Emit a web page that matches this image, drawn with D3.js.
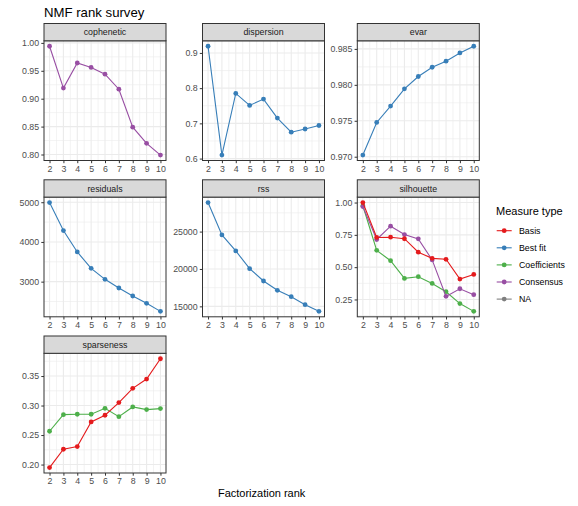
<!DOCTYPE html>
<html>
<head>
<meta charset="utf-8">
<script src="https://cdn.jsdelivr.net/npm/d3@7"></script>
<style>
  body { margin: 0; background: #fff; }
  svg { font-family: "Liberation Sans", Arial, sans-serif; }
</style>
</head>
<body>
<div id="chart"></div>
<script>
// NMF rank survey: faceted small multiples, one panel per quality measure
const ranks = [2, 3, 4, 5, 6, 7, 8, 9, 10];

const cophenetic = [0.994, 0.919, 0.964, 0.956, 0.944, 0.917, 0.849, 0.820, 0.799];
const dispersion = [0.919, 0.610, 0.785, 0.751, 0.769, 0.715, 0.675, 0.684, 0.694];
const evar = [0.97023, 0.97477, 0.97704, 0.97944, 0.98116, 0.98245, 0.98329, 0.98444, 0.98537];
const residuals = [4992, 4286, 3748, 3336, 3059, 2840, 2639, 2454, 2252];
const rss = [28884, 24554, 22411, 20045, 18393, 17143, 16295, 15223, 14330];
const silhouetteBasis = [1.00, 0.730, 0.732, 0.720, 0.616, 0.568, 0.561, 0.408, 0.444];
const silhouetteCoef = [0.975, 0.630, 0.550, 0.413, 0.426, 0.374, 0.310, 0.218, 0.158];
const silhouetteCons = [0.969, 0.714, 0.817, 0.752, 0.719, 0.556, 0.274, 0.333, 0.287];
const sparsenessBasis = [0.1949, 0.2259, 0.2305, 0.2722, 0.2835, 0.3050, 0.3291, 0.3449, 0.3793];
const sparsenessCoef = [0.2564, 0.2846, 0.2852, 0.2852, 0.2953, 0.2812, 0.2976, 0.2931, 0.2948];

const measureTypes = ['Basis', 'Best fit', 'Coefficients', 'Consensus', 'NA'];

const copheneticTicks = [0.80, 0.85, 0.90, 0.95, 1.00];
const dispersionTicks = [0.6, 0.7, 0.8, 0.9];
const evarTicks = [0.970, 0.975, 0.980, 0.985];
const residualsTicks = [3000, 4000, 5000];
const rssTicks = [15000, 20000, 25000];
const silhouetteTicks = [0.25, 0.50, 0.75, 1.00];
const sparsenessTicks = [0.20, 0.25, 0.30, 0.35];

const panels = [
  {name: 'cophenetic', ticks: copheneticTicks, fmt: '.2f', series: [{type: 'Consensus', values: cophenetic}]},
  {name: 'dispersion', ticks: dispersionTicks, fmt: '.1f', series: [{type: 'Best fit', values: dispersion}]},
  {name: 'evar', ticks: evarTicks, fmt: '.3f', series: [{type: 'Best fit', values: evar}]},
  {name: 'residuals', ticks: residualsTicks, fmt: 'd', series: [{type: 'Best fit', values: residuals}]},
  {name: 'rss', ticks: rssTicks, fmt: 'd', series: [{type: 'Best fit', values: rss}]},
  {name: 'silhouette', ticks: silhouetteTicks, fmt: '.2f', series: [
    {type: 'Coefficients', values: silhouetteCoef},
    {type: 'Consensus', values: silhouetteCons},
    {type: 'Basis', values: silhouetteBasis}
  ]},
  {name: 'sparseness', ticks: sparsenessTicks, fmt: '.2f', series: [
    {type: 'Coefficients', values: sparsenessCoef},
    {type: 'Basis', values: sparsenessBasis}
  ]}
];

const color = d3.scaleOrdinal()
  .domain(measureTypes)
  .range(['#E41A1C', '#377EB8', '#4DAF4A', '#984EA3', '#7F7F7F']);

const W = 578, H = 506;
const colLeft = [44, 202.5, 357.3];
const rowTop = [23.5, 179.8, 336];
const panelW = 122, stripH = 17.3, plotH = 119.7;

const svg = d3.select('#chart').append('svg').attr('width', W).attr('height', H);

svg.append('text').attr('x', 44).attr('y', 16.5)
  .attr('font-size', 13.2).attr('fill', '#000').text('NMF rank survey');

function expand(ext, mult) {
  const pad = (ext[1] - ext[0]) * mult;
  return [ext[0] - pad, ext[1] + pad];
}

panels.forEach((p, i) => {
  const col = i % 3, row = Math.floor(i / 3);
  const x0 = colLeft[col], y0 = rowTop[row] + stripH;
  const g = svg.append('g').attr('transform', `translate(${x0},${y0})`);

  const x = d3.scaleLinear().domain(expand([2, 10], 0.05)).range([0, panelW]);
  const allVals = p.series.flatMap(s => s.values);
  const y = d3.scaleLinear().domain(expand(d3.extent(allVals), 0.05)).range([plotH, 0]);

  // grid
  const step = p.ticks[1] - p.ticks[0];
  const yd = y.domain();
  const yMinor = [p.ticks[0] - step / 2].concat(p.ticks.map(t => t + step / 2))
    .filter(v => v > yd[0] && v < yd[1]);
  const xMinor = ranks.slice(0, -1).map(r => r + 0.5);

  g.append('rect').attr('width', panelW).attr('height', plotH).attr('fill', '#fff');
  g.selectAll('.ymin').data(yMinor).enter().append('line')
    .attr('x1', 0).attr('x2', panelW).attr('y1', d => y(d)).attr('y2', d => y(d))
    .attr('stroke', '#EBEBEB').attr('stroke-width', 0.6);
  g.selectAll('.xmin').data(xMinor).enter().append('line')
    .attr('y1', 0).attr('y2', plotH).attr('x1', d => x(d)).attr('x2', d => x(d))
    .attr('stroke', '#EBEBEB').attr('stroke-width', 0.6);
  g.selectAll('.ymaj').data(p.ticks).enter().append('line')
    .attr('x1', 0).attr('x2', panelW).attr('y1', d => y(d)).attr('y2', d => y(d))
    .attr('stroke', '#EBEBEB').attr('stroke-width', 1.1);
  g.selectAll('.xmaj').data(ranks).enter().append('line')
    .attr('y1', 0).attr('y2', plotH).attr('x1', d => x(d)).attr('x2', d => x(d))
    .attr('stroke', '#EBEBEB').attr('stroke-width', 1.1);

  // series
  const line = d3.line().x((d, j) => x(ranks[j])).y(d => y(d));
  p.series.forEach(s => {
    g.append('path').datum(s.values).attr('fill', 'none')
      .attr('stroke', color(s.type)).attr('stroke-width', 1.1).attr('d', line);
    g.selectAll(null).data(s.values).enter().append('circle')
      .attr('cx', (d, j) => x(ranks[j])).attr('cy', d => y(d)).attr('r', 2.4)
      .attr('fill', color(s.type));
  });

  g.append('rect').attr('width', panelW).attr('height', plotH)
    .attr('fill', 'none').attr('stroke', '#333').attr('stroke-width', 1);

  // strip
  g.append('rect').attr('y', -stripH).attr('width', panelW).attr('height', stripH)
    .attr('fill', '#D9D9D9').attr('stroke', '#333').attr('stroke-width', 1);
  g.append('text').attr('x', panelW / 2).attr('y', -stripH / 2 + 3.2)
    .attr('text-anchor', 'middle').attr('font-size', 8.8).attr('fill', '#1A1A1A').text(p.name);

  // axes
  const yAxis = g.append('g').call(d3.axisLeft(y).tickValues(p.ticks)
    .tickFormat(d3.format(p.fmt)).tickSize(2.7).tickPadding(2.2));
  const xAxis = g.append('g').attr('transform', `translate(0,${plotH})`)
    .call(d3.axisBottom(x).tickValues(ranks).tickFormat(d3.format('d')).tickSize(2.7).tickPadding(2.2));
  [yAxis, xAxis].forEach(a => {
    a.select('.domain').remove();
    a.selectAll('line').attr('stroke', '#333');
    a.selectAll('text').attr('fill', '#4D4D4D').attr('font-size', 8.8)
      .attr('font-family', '"Liberation Sans", Arial, sans-serif');
  });
});

svg.append('text').attr('x', (colLeft[0] + colLeft[2] + panelW) / 2).attr('y', 497)
  .attr('text-anchor', 'middle').attr('font-size', 11).attr('fill', '#000').text('Factorization rank');

// legend
const lg = svg.append('g').attr('transform', 'translate(496,0)');
lg.append('text').attr('x', 0).attr('y', 215).attr('font-size', 11).attr('fill', '#000').text('Measure type');
const items = lg.selectAll('.item').data(measureTypes).enter().append('g')
  .attr('transform', (d, i) => `translate(0,${230.7 + i * 17.1})`);
items.append('line').attr('x1', 0.7).attr('x2', 15.7).attr('stroke', d => color(d)).attr('stroke-width', 1.1);
items.append('circle').attr('cx', 8.2).attr('r', 2.4).attr('fill', d => color(d));
items.append('text').attr('x', 23).attr('y', 3.2).attr('font-size', 8.8).attr('fill', '#000').text(d => d);
</script>
</body>
</html>
